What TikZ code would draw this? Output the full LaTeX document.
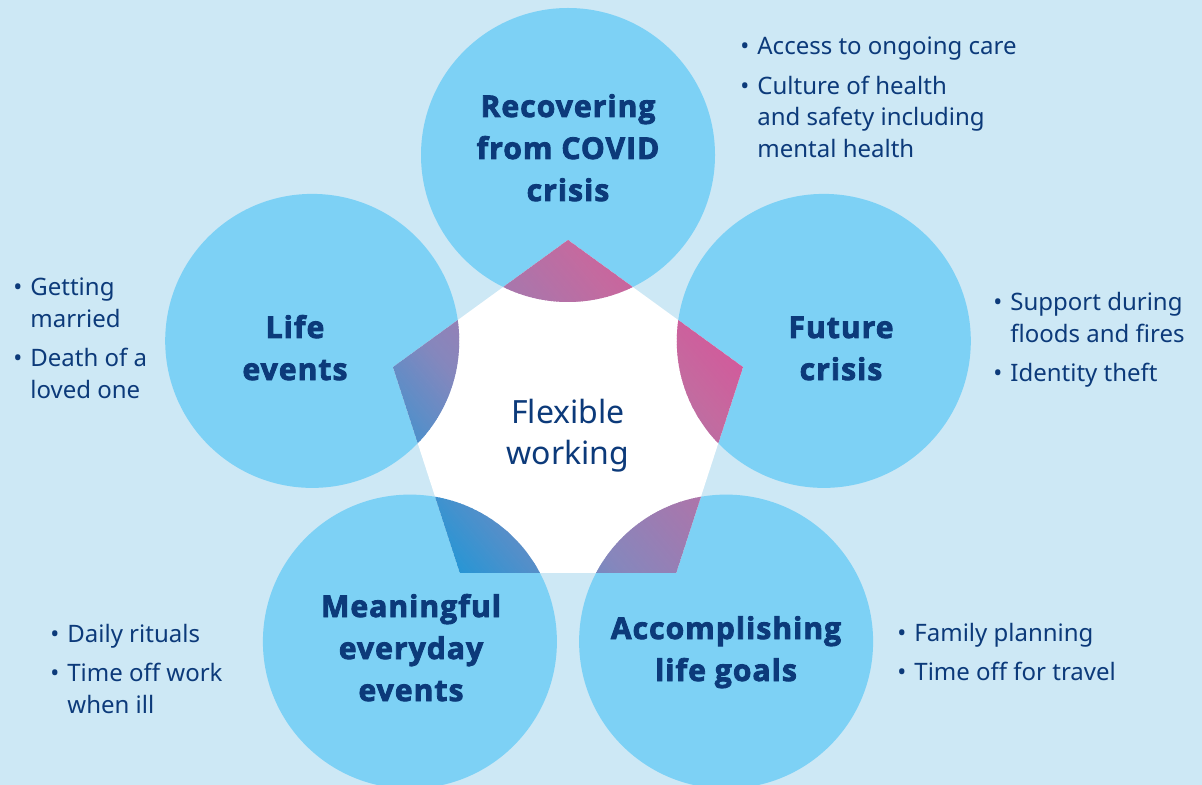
\documentclass[tikz,border=0pt]{standalone}
\usepackage{fontspec}
\setmainfont{Noto Sans}
\newfontfamily\ttlfont{Open Sans}[BoldFeatures={FakeBold=2.8,LetterSpace=3.6}]
\usetikzlibrary{calc}
\definecolor{bgc}{HTML}{CDE8F5}
\definecolor{circc}{HTML}{7DD1F5}
\definecolor{navy}{HTML}{0C3A7A}
\definecolor{gA}{HTML}{1A98D8}
\definecolor{gB}{HTML}{8587BD}
\definecolor{gC}{HTML}{C46A9F}
\definecolor{gD}{HTML}{D6569A}
\newcommand\bul{\llap{\textbullet\hspace{4pt}}}
\newcommand\stk[1]{\begin{tabular}[t]{@{}c@{}}#1\end{tabular}}
\newcommand\lst[1]{\begin{tabular}[t]{@{}l@{}}#1\end{tabular}}
% stripes of a linear gradient: #1 start, #2 end, #3 colour from, #4 colour to
\newcommand\gradseg[4]{%
  \pgfmathsetmacro\gsn{int(ceil((#2-#1)/2))}%
  \foreach \k in {1,...,\gsn}{%
    \pgfmathsetmacro\gsp{#1+(\k-1)*2}%
    \pgfmathsetmacro\gsq{100*(\k-0.5)/\gsn}%
    \fill[#4!\gsq!#3] (\gsp,-320) rectangle (\gsp+2.6,320);
  }}
\begin{document}
\begin{tikzpicture}[x=0.5pt,y=-0.5pt,
  titletxt/.style={anchor=base, inner sep=0pt, text=navy, font=\ttlfont\fontsize{15}{21}\selectfont\bfseries},
  midtxt/.style={anchor=base, inner sep=0pt, text=navy, font=\fontsize{16}{20.8}\selectfont},
  listtxt/.style={anchor=base west, inner sep=0pt, text=navy, font=\fontsize{12}{15.75}\selectfont},
  bubble/.style={fill=circc}]
\useasboundingbox (0,0) rectangle (1202,785);
\fill[bgc] (0,0) rectangle (1202,785);
% centres
\coordinate (O) at (568,424);
\coordinate (cT) at (568,155);
\coordinate (cR) at (823.8,340.9);
\coordinate (cBR) at (726.1,641.6);
\coordinate (cBL) at (409.9,641.6);
\coordinate (cL) at (312.2,340.9);
% pentagon corners
\coordinate (pT) at (568,240);
\coordinate (pR) at (743,367.1);
\coordinate (pBR) at (676.2,572.9);
\coordinate (pBL) at (459.8,572.9);
\coordinate (pL) at (393,367.1);
% circles
\foreach \c in {cT,cR,cBR,cBL,cL}{\fill[bubble] (\c) circle[radius=73.5pt];}
% pentagon
\fill[white] (pT)--(pR)--(pBR)--(pBL)--(pL)--cycle;
% gradient overlaps
\begin{scope}
  \clip (pT)--(pR)--(pBR)--(pBL)--(pL)--cycle;
  \clip (cT) circle[radius=73.5pt] (cR) circle[radius=73.5pt] (cBR) circle[radius=73.5pt]
        (cBL) circle[radius=73.5pt] (cL) circle[radius=73.5pt];
  \begin{scope}[shift={(O)}, rotate=40]
    \gradseg{-196}{-56}{gA}{gB}
    \gradseg{-56}{118}{gB}{gC}
    \gradseg{118}{190}{gC}{gD}
  \end{scope}
\end{scope}
% titles
\node[titletxt] (tT) at (568,117) {\stk{Recovering\\ from COVID\\ crisis}};
\node[titletxt] (tL) at (295,338) {\stk{Life\\ events}};
\node[titletxt] (tR) at (841,338) {\stk{Future\\ crisis}};
\node[titletxt] (tBL) at (411,617) {\stk{Meaningful\\ everyday\\ events}};
\node[titletxt] (tBR) at (726,639) {\stk{Accomplishing\\ life goals}};
\node[midtxt] (tO) at (568,423) {\stk{Flexible\\ working}};
% lists
\node[listtxt] (lT) at (757,55) {\lst{\bul Access to ongoing care\\[4pt] \bul Culture of health\\ and safety including\\ mental health}};
\node[listtxt] (lL) at (30,296) {\lst{\bul Getting\\ married\\[4pt] \bul Death of a\\ loved one}};
\node[listtxt] (lR) at (1010,311) {\lst{\bul Support during\\ floods and fires\\[4pt] \bul Identity theft}};
\node[listtxt] (lBL) at (67,642) {\lst{\bul Daily rituals\\[4pt] \bul Time off work\\ when ill}};
\node[listtxt] (lBR) at (914,641) {\lst{\bul Family planning\\[4pt] \bul Time off for travel}};
\end{tikzpicture}
\end{document}
